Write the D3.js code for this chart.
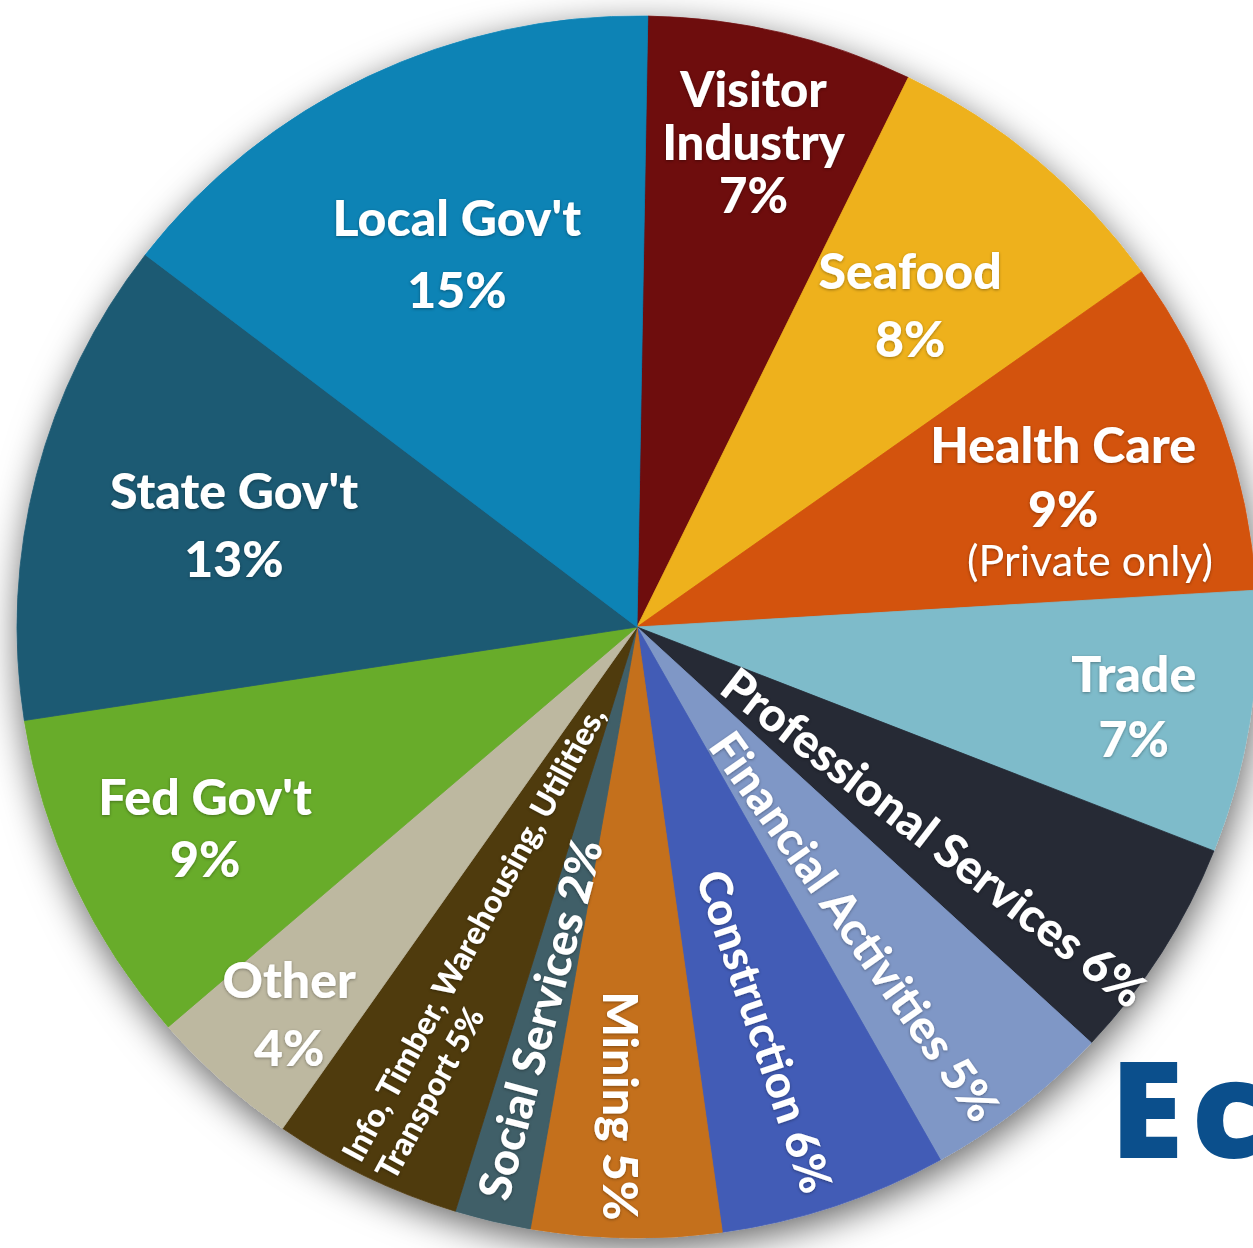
<!DOCTYPE html>
<html>
<head>
<meta charset="utf-8">
<script src="https://cdn.jsdelivr.net/npm/d3@7"></script>
<style>
  body { margin: 0; background: #fff; }
  svg { display: block; }
</style>
</head>
<body>
<svg id="chart"></svg>
<script>
// employment share by sector, clockwise from 12 o'clock
const sectors = [
    "Visitor Industry", "Seafood", "Health Care", "Trade", "Professional Services",
    "Financial Activities", "Construction", "Mining", "Social Services",
    "Info, Timber, Warehousing, Utilities, Transport", "Other", "Fed Gov't",
    "State Gov't", "Local Gov't"
];
const shares = [7, 8, 9, 7, 6, 5, 6, 5, 2, 5, 4, 9, 13, 15];
const sectorColors = [
    "#6e0c0f", "#eeb11b", "#d3520f", "#7ebbca", "#252a36",
    "#7f97c6", "#425cb6", "#c4701d", "#3f5e68",
    "#4f3a0f", "#bdb8a0", "#68ac2b",
    "#1f5a73", "#0983b5"
];
const labelLines = [
    ["Visitor", "Industry", "7%"], ["Seafood", "8%"], ["Health Care", "9%"], ["Trade", "7%"],
    ["Professional Services 6%"], ["Financial Activities 5%"], ["Construction 6%"],
    ["Mining 5%"], ["Social Services 2%"],
    ["Info, Timber, Warehousing, Utilities,", "Transport 5%"], ["Other", "4%"], ["Fed Gov't", "9%"],
    ["State Gov't", "13%"], ["Local Gov't", "15%"]
];
const labelNotes = { "Health Care": "(Private only)" };
const headline = "Ec";

// label placement (radius in px, angle tweaks in degrees)
const labelLayout = {
    "Visitor Industry": { r: 500, lh: 53, fs: 49 },
    "Seafood": { r: 423, lh: 68, fs: 50 },
    "Health Care": { r: 452, lh: 64, fs: 50 },
    "Trade": { r: 503, lh: 65, fs: 50 },
    "Professional Services": { radial: true, dAng: 3, r: 364, dRot: 5.5, fs: 47 },
    "Financial Activities": { radial: true, dAng: 2, r: 370, dRot: 3, fs: 46 },
    "Construction": { radial: true, dAng: 1, r: 424, dRot: 0, fs: 45 },
    "Mining": { radial: true, dAng: 0.8, r: 479, dRot: -1, fs: 48 },
    "Social Services": { radial: true, inward: true, dAng: 0.5, r: 404, dRot: 1.4, fs: 45 },
    "Info, Timber, Warehousing, Utilities, Transport": { radial: true, inward: true, anchor: "start", dAng: 0.7, r: 604, dRot: 2.7, fs: 32, lh: 38 },
    "Other": { r: 520, lh: 68, fs: 50 },
    "Fed Gov't": { r: 476, lh: 62, fs: 50 },
    "State Gov't": { r: 416, lh: 68, fs: 50 },
    "Local Gov't": { r: 415, lh: 72, fs: 50 }
};

const width = 1253, height = 1248;
const cx = 637, cy = 627;
const radius = 611, stretchX = 620 / 611;
const startDeg = 1;
const rad = d => d * Math.PI / 180;

const svg = d3.select("#chart")
    .attr("width", width)
    .attr("height", height);

const defs = svg.append("defs");
defs.append("filter")
    .attr("id", "pieShadow")
    .attr("x", "-20%").attr("y", "-20%").attr("width", "140%").attr("height", "140%")
    .append("feDropShadow")
    .attr("dx", 2).attr("dy", 10)
    .attr("stdDeviation", 18)
    .attr("flood-color", "#000")
    .attr("flood-opacity", 0.6);
defs.append("filter")
    .attr("id", "textShadow")
    .append("feDropShadow")
    .attr("dx", 0).attr("dy", 1)
    .attr("stdDeviation", 1.5)
    .attr("flood-color", "#000")
    .attr("flood-opacity", 0.35);

const data = sectors.map((name, i) => ({
    name: name,
    share: shares[i],
    color: sectorColors[i],
    lines: labelLines[i]
}));

const pie = d3.pie()
    .sort(null)
    .value(d => d.share)
    .startAngle(rad(startDeg))
    .endAngle(rad(startDeg) + 2 * Math.PI);

const arc = d3.arc()
    .innerRadius(0)
    .outerRadius(radius);

const arcs = pie(data);

svg.append("g")
    .attr("transform", `translate(${cx},${cy}) scale(${stretchX},1)`)
    .attr("filter", "url(#pieShadow)")
    .selectAll("path")
    .data(arcs)
    .join("path")
    .attr("d", arc)
    .attr("fill", d => d.data.color)
    .attr("stroke", d => d.data.color)
    .attr("stroke-width", 0.8);

const labels = svg.append("g")
    .attr("transform", `translate(${cx},${cy})`)
    .attr("font-family", "Lato, 'Open Sans', sans-serif")
    .attr("font-weight", 900)
    .attr("fill", "#fff")
    .attr("filter", "url(#textShadow)");

arcs.forEach(a => {
    const lay = labelLayout[a.data.name];
    const mid = (a.startAngle + a.endAngle) / 2;
    const ang = mid + rad(lay.dAng || 0);
    const x = lay.r * Math.sin(ang);
    const y = -lay.r * Math.cos(ang);
    const lines = a.data.lines;

    if (lay.radial) {
        let rot = mid * 180 / Math.PI - 90 + (lay.dRot || 0);
        if (lay.inward) rot += 180;
        const lh = lay.lh || lay.fs;
        const t = labels.append("text")
            .attr("transform", `translate(${x},${y}) rotate(${rot})`)
            .attr("text-anchor", lay.anchor || "middle")
            .attr("dominant-baseline", "central")
            .attr("font-size", lay.fs);
        lines.forEach((line, i) => {
            t.append("tspan")
                .attr("x", 0)
                .attr("y", (i - (lines.length - 1) / 2) * lh)
                .text(line);
        });
    } else {
        const t = labels.append("text")
            .attr("text-anchor", "middle")
            .attr("dominant-baseline", "central")
            .attr("font-size", lay.fs);
        lines.forEach((line, i) => {
            t.append("tspan")
                .attr("x", x)
                .attr("y", y + (i - (lines.length - 1) / 2) * lay.lh)
                .text(line);
        });
        const note = labelNotes[a.data.name];
        if (note) {
            labels.append("text")
                .attr("x", x + 27)
                .attr("y", y + ((lines.length - 1) / 2) * lay.lh + 51)
                .attr("text-anchor", "middle")
                .attr("dominant-baseline", "central")
                .attr("font-size", 43)
                .attr("font-weight", 400)
                .text(note);
        }
    }
});

svg.append("text")
    .attr("x", 1110)
    .attr("y", 1158)
    .attr("font-family", "'Open Sans', Lato, sans-serif")
    .attr("font-weight", 800)
    .attr("font-size", 134)
    .attr("letter-spacing", 8)
    .attr("fill", "#0b4f8c")
    .text(headline);
</script>
</body>
</html>
